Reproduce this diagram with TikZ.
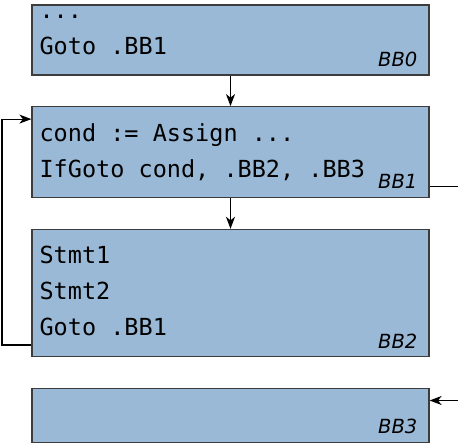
\documentclass[tikz,border=0pt]{standalone}
\usepackage{fontspec}
\setmonofont{DejaVu Sans Mono}
\newfontfamily\bbfont{DejaVu Sans}
\usetikzlibrary{arrows.meta,positioning}
\definecolor{bbfill}{RGB}{154,185,214}
\definecolor{bbline}{RGB}{60,60,60}
\tikzset{
    block/.style={
           rectangle,
           draw=bbline,
           fill=bbfill,
           line width=1.2pt,
           minimum width=397pt,
           inner sep=0pt,
           },
    code/.style={
           anchor=base west,
           inner sep=0pt,
           font=\ttfamily\fontsize{23.5}{36}\selectfont,
           },
    bblabel/.style={
           anchor=base east,
           inner sep=0pt,
           font=\bbfont\itshape\fontsize{19.5}{22}\selectfont,
           },
    flow/.style={
           -{Stealth[length=12pt,width=9pt,inset=3.5pt]},
           line width=1.2pt,
           },
}

\begin{document}
\begin{tikzpicture}[x=1pt,y=-1pt]
\useasboundingbox (0,0) rectangle (458,444);
\clip (0,0) rectangle (458,444);
\node[block,minimum height=70pt] (bb0) at (230.5,40) {};
\node[block,minimum height=91pt,below=30.5pt of bb0] (bb1) {};
\node[block,minimum height=127pt,below=30.5pt of bb1] (bb2) {};
\node[block,minimum height=54pt,below=30.5pt of bb2] (bb3) {};
% code in the blocks
\node[code] (code0) at ([xshift=8pt,yshift=-14pt]bb0.north west) {
  \begin{tabular}[t]{@{}l@{}}
    ...\\
    Goto .BB1
  \end{tabular}
};
\node[code] (code1) at ([xshift=8pt,yshift=-35pt]bb1.north west) {
  \begin{tabular}[t]{@{}l@{}}
    cond := Assign ...\\
    IfGoto cond, .BB2, .BB3
  \end{tabular}
};
\node[code] (code2) at ([xshift=8pt,yshift=-35pt]bb2.north west) {
  \begin{tabular}[t]{@{}l@{}}
    Stmt1\\
    Stmt2\\
    Goto .BB1
  \end{tabular}
};
% block names
\node[bblabel] (lbl0) at ([xshift=-12pt,yshift=9pt]bb0.south east) {BB0};
\node[bblabel] (lbl1) at ([xshift=-12pt,yshift=10pt]bb1.south east) {BB1};
\node[bblabel] (lbl2) at ([xshift=-12pt,yshift=9pt]bb2.south east) {BB2};
\node[bblabel] (lbl3) at ([xshift=-12pt,yshift=9pt]bb3.south east) {BB3};
% edges
\draw[flow] (bb0) -- (bb1);
\draw[flow] (bb1) -- (bb2);
\draw[flow] ([yshift=12pt]bb2.south west) -- ++(-29.5pt,0)
      |- ([yshift=-13pt]bb1.north west);
\draw[flow] ([yshift=12pt]bb1.south east) -- ++(40pt,0)
      |- ([yshift=-13pt]bb3.north east);
\end{tikzpicture}
\end{document}
